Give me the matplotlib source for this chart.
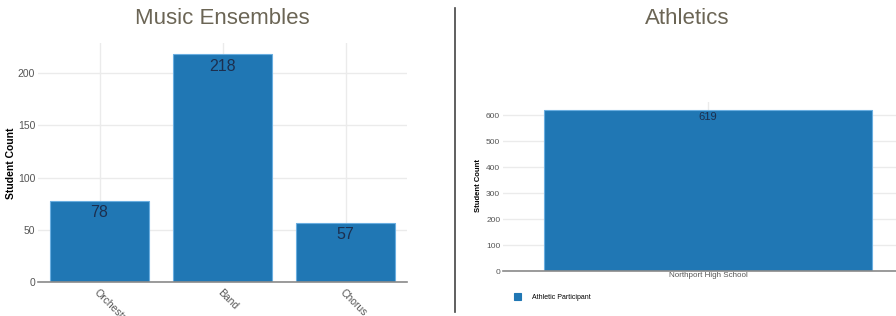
import matplotlib.pyplot as plt
from matplotlib.lines import Line2D

# music ensembles
music_cats = ['Orchestra', 'Band', 'Chorus']
music_counts = [78, 218, 57]
music_yticks = [0, 50, 100, 150, 200]

# athletics
ath_cats = ['Northport High School']
ath_counts = [619]
ath_yticks = [0, 100, 200, 300, 400, 500, 600]
ath_series = 'Athletic Participant'

BLUE = '#2077b4'
EDGE = '#6aaee0'
GRID = '#ebebeb'
TITLE = '#6b6555'
TICK = '#555555'
LABEL = '#1c2f4f'

plt.rcParams['font.family'] = ['Liberation Sans', 'DejaVu Sans']
NARROW = ['Liberation Sans Narrow', 'Liberation Sans', 'DejaVu Sans']

fig = plt.figure(figsize=(8.96, 3.16), dpi=100)


def style_axes(ax, tick_size):
    for s in ['top', 'right', 'left']:
        ax.spines[s].set_visible(False)
    ax.spines['bottom'].set_color('#8a8a8a')
    ax.spines['bottom'].set_linewidth(1.2)
    ax.grid(axis='y', color=GRID, linewidth=1)
    ax.set_axisbelow(True)
    ax.tick_params(axis='y', length=0, pad=2, labelsize=tick_size, labelcolor=TICK)
    ax.tick_params(axis='x', length=0, labelcolor=TICK)
    for t in ax.get_yticklabels():
        t.set_family(NARROW)


# left chart
ax1 = fig.add_axes([38 / 896, 1 - 282 / 316, 369 / 896, 239 / 316])
xs = range(len(music_cats))
for x in xs:
    ax1.axvline(x, color=GRID, linewidth=1, zorder=0)
bars = ax1.bar(xs, music_counts, width=0.8, color=BLUE, edgecolor=EDGE, linewidth=0.8)
ax1.set_xlim(-0.5, 2.5)
ax1.set_ylim(0, 229)
ax1.set_yticks(music_yticks)
ax1.set_xticks(list(xs))
ax1.set_xticklabels(music_cats, rotation=-45, ha='left', va='top',
                    rotation_mode='anchor', fontsize=7.5, family=NARROW)
style_axes(ax1, 7.5)
for b, v in zip(bars, music_counts):
    ax1.text(b.get_x() + b.get_width() / 2, v - 4, str(v), ha='center', va='top',
             fontsize=11.5, color=LABEL, family=NARROW)
fig.text(11 / 896, 1 - 163 / 316, 'Student Count', rotation=90, ha='center',
         va='center', fontsize=7.5, fontweight='bold')
fig.text(222 / 896, 1 - 18 / 316, 'Music Ensembles', ha='center', va='center',
         fontsize=16, color=TITLE)

# divider
fig.add_artist(Line2D([455 / 896, 455 / 896], [1 - 8 / 316, 1 - 312 / 316],
                      transform=fig.transFigure, color='#444444', linewidth=1.2))

# right chart
ax2 = fig.add_axes([503 / 896, 1 - 271 / 316, 410 / 896, 169 / 316])
ax2.axvline(0, color=GRID, linewidth=1, zorder=0)
bars2 = ax2.bar(range(len(ath_cats)), ath_counts, width=0.8, color=BLUE,
                edgecolor=EDGE, linewidth=0.8, label=ath_series)
ax2.set_xlim(-0.5, 0.5)
ax2.set_ylim(0, 650)
ax2.set_yticks(ath_yticks)
ax2.set_xticks(range(len(ath_cats)))
ax2.set_xticklabels(ath_cats, fontsize=5.8, family=NARROW)
style_axes(ax2, 6)
ax2.tick_params(axis='x', pad=1)
for b, v in zip(bars2, ath_counts):
    ax2.text(b.get_x() + b.get_width() / 2, v - 6, str(v), ha='center', va='top',
             fontsize=8, color=LABEL)
fig.text(478 / 896, 1 - 186 / 316, 'Student Count', rotation=90, ha='center',
         va='center', fontsize=5.5, fontweight='bold')
fig.text(687 / 896, 1 - 18 / 316, 'Athletics', ha='center', va='center',
         fontsize=16, color=TITLE)
leg = ax2.legend(loc='center left', bbox_to_anchor=(508 / 896, 1 - 297 / 316),
                 bbox_transform=fig.transFigure, frameon=False, fontsize=5,
                 handlelength=0.9, handleheight=1.2, handletextpad=1.6)
for h in leg.legend_handles:
    h.set_edgecolor(BLUE)

fig.savefig('out.png', dpi=100)
